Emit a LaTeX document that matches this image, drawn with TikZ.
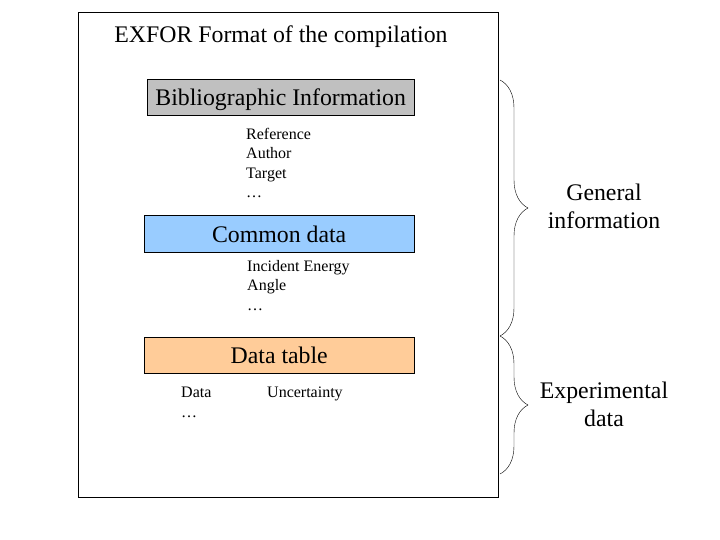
\documentclass[tikz,border=0pt]{standalone}
\usepackage{fontspec}
\setmainfont{Liberation Serif}
\usetikzlibrary{positioning, decorations.pathreplacing}
\definecolor{bibg}{RGB}{192,192,192}
\definecolor{comb}{RGB}{153,204,255}
\definecolor{tabo}{RGB}{255,204,153}

\begin{document}
\begin{tikzpicture}[x=1pt, y=-1pt,
    section/.style={draw, anchor=north west, inner sep=0pt, text height=19pt,
      text depth=2pt, font=\fontsize{23.8}{28}\selectfont},
    items/.style={anchor=north west, align=left, inner sep=0pt,
      font=\fontsize{16}{19.5}\selectfont},
    bracket/.style={decorate, decoration={brace, amplitude=28pt, aspect=0.5}},
    side/.style={align=center, font=\fontsize{23.8}{28}\selectfont}]
        \useasboundingbox (0,0) rectangle (720,540);
        \node [draw, anchor=north west, minimum width=420pt, minimum height=485pt]
        (frame) at (78,12) {};
        \node [font=\fontsize{23.8}{28}\selectfont] (title) at (281,37)
        {EXFOR Format of the compilation};
        % the three parts of the record
        \node [section, fill=bibg, minimum width=267pt, minimum height=36pt]
        (bib) at (147,79) {Bibliographic Information};
        \node [items] (bibitems) at (246,128) {Reference\\Author\\Target\\\ldots};
        \node [section, fill=comb, minimum width=270pt, minimum height=37pt]
        (common) at (144,215) {Common data};
        \node [items] (comitems) at (247,260) {Incident Energy\\Angle\\\ldots};
        \node [section, fill=tabo, minimum width=270pt, minimum height=36pt]
        (table) at (144,337) {Data table};
        \node [items] (tabdata) at (181,387) {Data\\\ldots};
        \node [items] (tabunc) at (267,387) {Uncertainty};
        % braces on the right
        \coordinate (gtop) at (500,80);
        \coordinate (gbot) at (500,336);
        \coordinate (ebot) at (500,474);
        \draw [bracket] (gtop) -- (gbot);
        \draw [bracket] (gbot) -- (ebot);
        \node [side] (general) at (604,206) {General\\information};
        \node [side] (experimental) at (604,404) {Experimental\\data};
      \end{tikzpicture}
\end{document}
